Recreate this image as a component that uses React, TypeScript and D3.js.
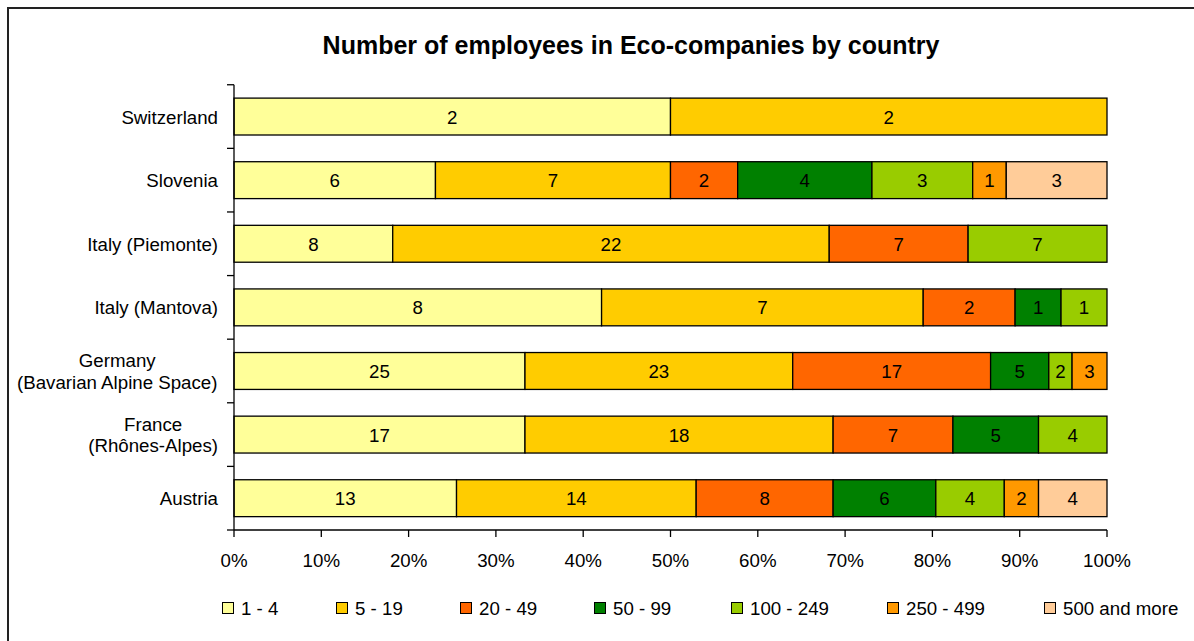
import React from "react";
import * as d3 from "d3";

const categories = [
  "Switzerland",
  "Slovenia",
  "Italy (Piemonte)",
  "Italy (Mantova)",
  "Germany\n(Bavarian Alpine Space)",
  "France\n(Rhônes-Alpes)",
  "Austria",
];
const seriesNames = ["1 - 4", "5 - 19", "20 - 49", "50 - 99", "100 - 249", "250 - 499", "500 and more"];
const seriesColors = ["#FFFF99", "#FFCC00", "#FF6600", "#008000", "#99CC00", "#FF9900", "#FFCC99"];
// values per category, in series order
const s1_4 = [2, 6, 8, 8, 25, 17, 13];
const s5_19 = [2, 7, 22, 7, 23, 18, 14];
const s20_49 = [0, 2, 7, 2, 17, 7, 8];
const s50_99 = [0, 4, 0, 1, 5, 5, 6];
const s100_249 = [0, 3, 7, 1, 2, 4, 4];
const s250_499 = [0, 1, 0, 0, 3, 0, 2];
const s500 = [0, 3, 0, 0, 0, 0, 4];
const seriesValues = [s1_4, s5_19, s20_49, s50_99, s100_249, s250_499, s500];
const xTicks = [0, 0.1, 0.2, 0.3, 0.4, 0.5, 0.6, 0.7, 0.8, 0.9, 1];

const W = 1194;
const H = 641;
const FONT = "'Liberation Sans', Arial, sans-serif";
const FS = 18.7;

let ctx: CanvasRenderingContext2D | null = null;
function measure(t: string, size: number) {
  if (!ctx) ctx = document.createElement("canvas").getContext("2d");
  if (!ctx) return t.length * size * 0.5;
  ctx.font = `${size}px ${FONT}`;
  return ctx.measureText(t).width;
}

export default function App() {
  const left = 234, right = 1107, top = 84.75, bottom = 530;
  const x = d3.scaleLinear().domain([0, 1]).range([left, right]);
  const y = d3.scaleBand().domain(categories).range([top, bottom]).paddingInner(0.42).paddingOuter(0.21);
  const step = y.step();

  const rows = categories.map((c, i) => {
    const vals = seriesValues.map((s) => s[i]);
    const total = d3.sum(vals);
    let acc = 0;
    return vals.map((v, j) => {
      const x0 = acc / total;
      acc += v;
      return { cat: c, v, j, x0, x1: acc / total };
    });
  });

  const legendX = [222, 336, 460, 594, 731, 887, 1044];
  const labelRight = 218;

  return (
    <svg width={W} height={H} style={{ position: "absolute", left: 0, top: 0, background: "#fff" }} fontFamily={FONT}>
      <rect x={0} y={0} width={W} height={H} fill="#fff" />
      <path d={`M8,${H} L8,8 L${W},8`} fill="none" stroke="#222" strokeWidth={2} />
      <text x={631} y={54} textAnchor="middle" fontSize={25} fontWeight="bold" fill="#000">
        Number of employees in Eco-companies by country
      </text>
      {/* bars */}
      {rows.map((segs, i) =>
        segs.filter((s) => s.v > 0).map((s) => (
          <g key={`${i}-${s.j}`}>
            <rect
              x={x(s.x0)}
              y={y(s.cat)!}
              width={x(s.x1) - x(s.x0)}
              height={y.bandwidth()}
              fill={seriesColors[s.j]}
              stroke="#000"
              strokeWidth={1.3}
            />
            <text
              x={(x(s.x0) + x(s.x1)) / 2}
              y={y(s.cat)! + y.bandwidth() / 2 + 7}
              textAnchor="middle"
              fontSize={FS}
              fill="#000"
            >
              {s.v}
            </text>
          </g>
        ))
      )}
      {/* y axis */}
      <line x1={left} x2={left} y1={top} y2={bottom} stroke="#000" strokeWidth={1.3} />
      {d3.range(categories.length + 1).map((k) => (
        <line key={k} x1={left - 7} x2={left} y1={top + k * step} y2={top + k * step} stroke="#000" strokeWidth={1.3} />
      ))}
      {categories.map((c) => {
        const lines = c.split("\n");
        const cy = y(c)! + y.bandwidth() / 2;
        const maxW = d3.max(lines, (l) => measure(l, FS)) || 0;
        const cx = labelRight - maxW / 2;
        return (
          <text key={c} fontSize={FS} fill="#000" textAnchor="middle">
            {lines.map((l, li) => (
              <tspan key={li} x={cx} y={cy + 7 + (li - (lines.length - 1) / 2) * 21.5}>
                {l}
              </tspan>
            ))}
          </text>
        );
      })}
      {/* x axis */}
      <line x1={left} x2={right} y1={bottom} y2={bottom} stroke="#000" strokeWidth={1.3} />
      {xTicks.map((t) => (
        <g key={t}>
          <line x1={x(t)} x2={x(t)} y1={bottom} y2={bottom + 7} stroke="#000" strokeWidth={1.3} />
          <text x={x(t)} y={567} textAnchor="middle" fontSize={FS} fill="#000">
            {d3.format(".0%")(t)}
          </text>
        </g>
      ))}
      {/* legend */}
      {seriesNames.map((n, j) => (
        <g key={n}>
          <rect x={legendX[j] + 0.5} y={602.5} width={11} height={11} fill={seriesColors[j]} stroke="#000" strokeWidth={1} />
          <text x={legendX[j] + 19} y={615} fontSize={FS} fill="#000">
            {n}
          </text>
        </g>
      ))}
    </svg>
  );
}
